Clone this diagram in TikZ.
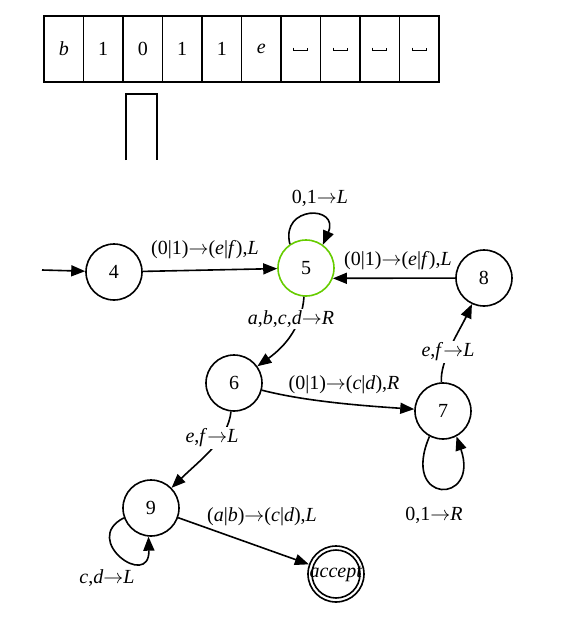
\documentclass[tikz,border=0pt]{standalone}
\usepackage{fontspec}
\setmainfont{Liberation Serif}
\usetikzlibrary{arrows.meta}

\definecolor{stategreen}{RGB}{102,204,0}
\newcommand{\blank}{\tikz\draw[line width=0.5pt] (0,1.4pt) -- (0,0) -- (7pt,0) -- (7pt,1.4pt);}
\newcommand{\goes}{\ensuremath{\rightarrow}}

\tikzset{
  state/.style={draw, circle, line width=0.8pt, minimum size=28pt, inner sep=0pt},
  cell/.style={draw, line width=0.9pt, minimum width=19.75pt, minimum height=33pt, inner sep=0pt},
  edge/.style={line width=0.8pt, -{Triangle[length=7pt,width=5.5pt]}},
  lbl/.style={fill=white, inner sep=1pt},
}

\begin{document}
\begin{tikzpicture}[x=0.5pt, y=-0.5pt]
    \useasboundingbox (0,0) rectangle (582,618);

    % Tape and head
    \foreach \sym [count=\i from 0] in {\textit{b},1,0,1,1,\textit{e},\blank,\blank,\blank,\blank}
        \node[cell] (cell\i) at (63.75+39.5*\i, 49) {\sym};
    \draw[line width=0.9pt] (126,160) -- (126,94) -- (157,94) -- (157,160);

    % States
    \node[state] (s4) at (114,272) {4};
    \node[state, draw=stategreen] (s5) at (306,268) {5};
    \node[state] (s8) at (484,278) {8};
    \node[state] (s6) at (234,383) {6};
    \node[state] (s7) at (443,411) {7};
    \node[state] (s9) at (151,508) {9};
    \node[state] (acc) at (336,574) {\textit{accept}};
    \draw[line width=0.8pt] (acc.center) circle (12pt);

    % Transitions
    \coordinate (start) at (42,270);
    \draw[edge] (start) -- (s4);

    \draw[edge] (s4) -- (s5);
    \node (l45) at (205,250) {(0|1)\goes(\textit{e}|\textit{f}),\textit{L}};

    \draw[edge] (s5.124) .. controls (280,205) and (340,205) .. (s5.54);
    \node (l55) at (320,198) {0,1\goes\textit{L}};

    \draw[edge] (s8) -- (s5.-21);
    \node (l85) at (398,261) {(0|1)\goes(\textit{e}|\textit{f}),\textit{L}};

    \draw[edge] (s5) .. controls (302,325) and (287,345) .. (s6);
    \node[lbl] (l56) at (291,319) {\textit{a},\textit{b},\textit{c},\textit{d}\goes\textit{R}};

    \draw[edge] (s6) .. controls (300,400) and (350,405) .. (s7);
    \node (l67) at (344,385) {(0|1)\goes(\textit{c}|\textit{d}),\textit{R}};

    \draw[edge] (s7) .. controls (440,360) and (460,330) .. (s8);
    \node[lbl] (l78) at (448,352) {\textit{e},\textit{f}\goes\textit{L}};

    \draw[edge] (s7.-118) .. controls (400,505) and (480,505) .. (s7.-62);
    \node (l77) at (434,515) {0,1\goes\textit{R}};

    \draw[edge] (s6) .. controls (228,440) and (200,460) .. (s9);
    \node[lbl] (l69) at (212,438) {\textit{e},\textit{f}\goes\textit{L}};

    \draw[edge] (s9.-160) .. controls (80,540) and (150,590) .. (s9.-95);
    \node (l99) at (107,578) {\textit{c},\textit{d}\goes\textit{L}};

    \draw[edge] (s9) -- (acc);
    \node (l9a) at (262,517) {(\textit{a}|\textit{b})\goes(\textit{c}|\textit{d}),\textit{L}};

\end{tikzpicture}
\end{document}
